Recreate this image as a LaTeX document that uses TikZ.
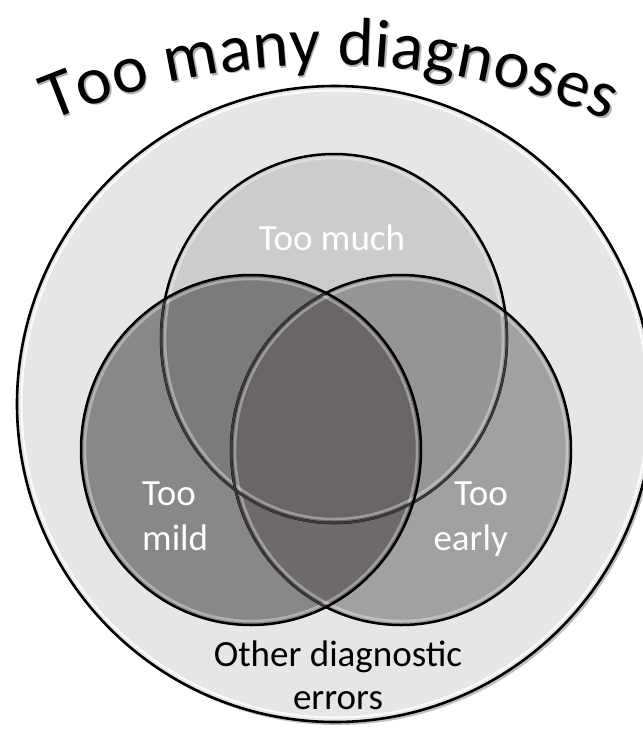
\documentclass[tikz,border=0pt]{standalone}
\usepackage{fontspec}
\setmainfont{Carlito}
\definecolor{cOut}{HTML}{E6E6E6}
\definecolor{cT}{HTML}{CCCCCC}
\definecolor{cL}{HTML}{8A8788}
\definecolor{cR}{HTML}{A1A1A1}
\definecolor{cTL}{HTML}{7D7A7B}
\definecolor{cTR}{HTML}{959595}
\definecolor{cLR}{HTML}{6E6A6B}
\definecolor{cTLR}{HTML}{6A6667}
\definecolor{cIn}{HTML}{3A3A3A}
\begin{document}
\begin{tikzpicture}[x=1pt,y=-1pt,
  rim/.style={black, line width=2.5pt},
  innerrim/.style={cIn, line width=2.1pt},
  bevel/.style={white, opacity=0.35, line width=2.5pt},
  lbl/.style={inner sep=0pt, font=\fontsize{37}{43}\selectfont, text=white},
  darklbl/.style={inner sep=0pt, font=\fontsize{37}{44}\selectfont, text=black},
  titlechar/.style={inner sep=0pt, anchor=base, font=\fontsize{68}{72}\selectfont}]
\def\VennPathT{(334,338.5) ellipse [x radius=173, y radius=184.5]}
\def\VennPathL{(251,450) ellipse [x radius=170, y radius=175]}
\def\VennPathR{(401,450) ellipse [x radius=170, y radius=175]}
\fill[white] (0,0) rectangle (643,729);
\useasboundingbox (0,0) rectangle (643,729);
% outer circle
\fill[black!25] (337.5,407) circle [radius=318];
\fill[cOut] (335,404) circle [radius=318];
\draw[white, line width=2pt, opacity=.9] (335,404) circle [radius=313.5];
\draw[rim, line width=2.6pt] (335,404) circle [radius=318];
% region fills
\fill[cT] \VennPathT;
\fill[cL] \VennPathL;
\fill[cR] \VennPathR;
\begin{scope}
  \clip \VennPathL;
  \fill[cLR] \VennPathR;
\end{scope}
\begin{scope}
  \clip \VennPathT;
  \fill[cTL] \VennPathL;
  \fill[cTR] \VennPathR;
\end{scope}
\begin{scope}
  \clip \VennPathT;
  \clip \VennPathL;
  \fill[cTLR] \VennPathR;
\end{scope}
% bevels
\draw[bevel] (334,338.5) ellipse [x radius=169, y radius=180.5];
\draw[bevel] (251,450) ellipse [x radius=166, y radius=171];
\draw[bevel] (401,450) ellipse [x radius=166, y radius=171];
% outlines
\draw[rim] \VennPathT;
\begin{scope}
  \clip \VennPathL;
  \draw[innerrim] \VennPathT;
\end{scope}
\begin{scope}
  \clip \VennPathR;
  \draw[innerrim] \VennPathT;
\end{scope}
\draw[rim] \VennPathR;
\begin{scope}
  \clip \VennPathL;
  \draw[innerrim] \VennPathR;
\end{scope}
\draw[rim] \VennPathL;
% labels
\node[lbl, anchor=base] (much) at (332,250) {Too much};
\node[lbl, anchor=base west] (mild1) at (142,505) {Too};
\node[lbl, anchor=base west] (mild2) at (142,550) {mild};
\node[lbl, anchor=base east] (early1) at (508,505) {Too};
\node[lbl, anchor=base east] (early2) at (508,550) {early};
\node[darklbl, anchor=base] (other1) at (338,666) {Other diagnostic};
\node[darklbl, anchor=base] (other2) at (338,709) {errors};
% title along an arc: char / centre (em) / index
\foreach \ch/\c/\i in {T/0.2435/0, o/0.7505/1, o/1.2775/2, m/2.1665/4, a/2.8055/5,
    n/3.3075/6, y/3.7965/7, d/4.5115/9, i/4.8885/10, a/5.2425/11, g/5.7175/12,
    n/6.2155/13, o/6.7415/14, s/7.2005/15, e/7.645/16, s/8.0895/17} {
  \pgfmathsetmacro\ang{(\c*68+\i*0.5-285.95)*0.07908}
  \node[titlechar, text=black!30, rotate=-\ang] (shadow\i) at
    ({331.5+724.5*sin(\ang)}, {791-724.5*cos(\ang)}) {\ch};
  \node[titlechar, text=black, rotate=-\ang] (title\i) at
    ({330+724.5*sin(\ang)}, {789.5-724.5*cos(\ang)}) {\ch};
}
\end{tikzpicture}
\end{document}
